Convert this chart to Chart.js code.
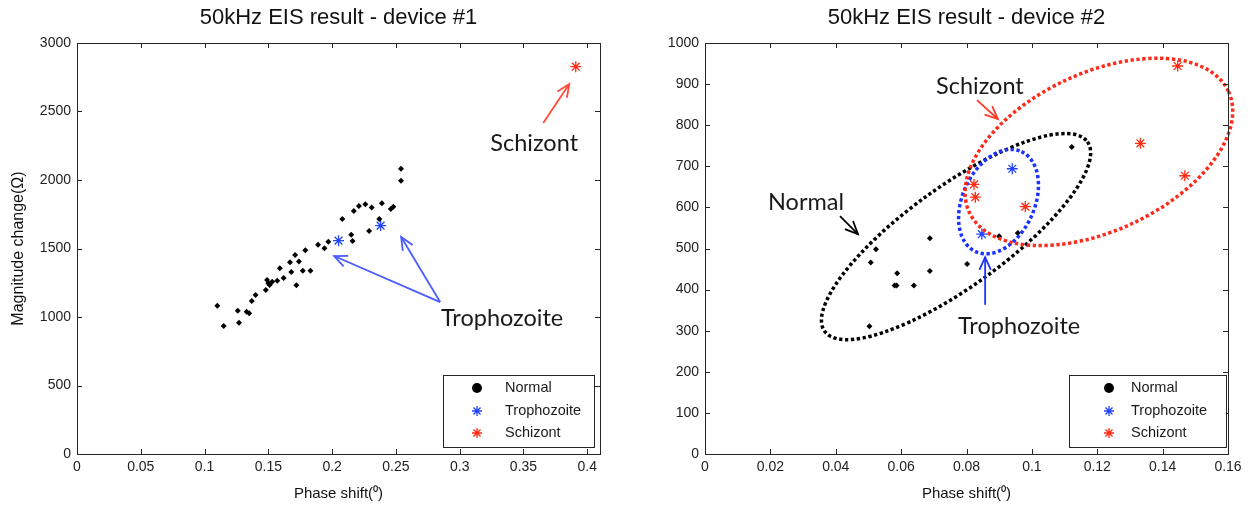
<!DOCTYPE html>
<html>
<head>
<meta charset="utf-8">
<script src="https://cdn.jsdelivr.net/npm/chart.js@4.4.1/dist/chart.umd.min.js"></script>
<style>
  body { margin: 0; background: #fff; width: 1250px; height: 508px; overflow: hidden; position: relative; }
  canvas { position: absolute; top: 0; }
  #dev1Chart { left: 0; }
  #dev2Chart { left: 625px; }
</style>
</head>
<body>
<canvas id="dev1Chart" width="625" height="508"></canvas>
<canvas id="dev2Chart" width="625" height="508"></canvas>
<script>
// ---- data ----
// device #1
const dev1NormalX = [0.254, 0.254, 0.239, 0.226, 0.221, 0.231, 0.217, 0.248, 0.246, 0.208, 0.237,
  0.215, 0.216, 0.229, 0.189, 0.197, 0.194, 0.179, 0.171, 0.174, 0.167, 0.159, 0.168, 0.177,
  0.183, 0.162, 0.157, 0.153, 0.149, 0.150, 0.151, 0.148, 0.172, 0.140, 0.137, 0.133, 0.135,
  0.126, 0.127, 0.110, 0.115];
const dev1NormalY = [2083, 1995, 1830, 1823, 1810, 1800, 1774, 1805, 1788, 1715, 1715,
  1601, 1555, 1628, 1528, 1550, 1501, 1487, 1453, 1406, 1399, 1355, 1328, 1338,
  1338, 1285, 1265, 1258, 1270, 1246, 1234, 1197, 1231, 1161, 1117, 1039, 1027,
  1046, 958, 1083, 934];
const dev1TrophX = [0.205, 0.238];
const dev1TrophY = [1557, 1667];
const dev1SchizX = [0.391];
const dev1SchizY = [2827];

// device #2
const dev2NormalX = [0.0688, 0.0523, 0.0507, 0.0588, 0.0688, 0.0802, 0.0580, 0.0586, 0.0639,
  0.0503, 0.0900, 0.0957, 0.1122];
const dev2NormalY = [525, 498, 466, 440, 445, 462, 410, 410, 410, 311, 530, 538, 747];
const dev2TrophX = [0.094, 0.0847];
const dev2TrophY = [694, 535];
const dev2SchizX = [0.0823, 0.0827, 0.098, 0.1446, 0.1332, 0.1468];
const dev2SchizY = [656, 625, 602, 944, 756, 677];

// tick labels
const dev1XTicks = [0, 0.05, 0.1, 0.15, 0.2, 0.25, 0.3, 0.35, 0.4];
const dev1YTicks = [0, 500, 1000, 1500, 2000, 2500, 3000];
const dev2XTicks = [0, 0.02, 0.04, 0.06, 0.08, 0.1, 0.12, 0.14, 0.16];
const dev2YTicks = [0, 100, 200, 300, 400, 500, 600, 700, 800, 900, 1000];

const seriesNames = ['Normal', 'Trophozoite', 'Schizont'];

const BLUE = '#2244ff';
const RED = '#ff2a14';
const FONT = '"Liberation Sans", Arial, sans-serif';

function toPoints(xs, ys) {
  return xs.map((x, i) => ({ x: x, y: ys[i] }));
}

function fmt(v) {
  return String(+v.toFixed(3));
}

// draw a MATLAB style star (plus + cross) or filled dot
function drawMarker(ctx, style, x, y, r, color) {
  ctx.save();
  ctx.strokeStyle = color;
  ctx.fillStyle = color;
  ctx.lineWidth = 1.3;
  if (style === 'circle') {
    ctx.beginPath();
    ctx.arc(x, y, r, 0, Math.PI * 2);
    ctx.fill();
  } else {
    const d = r * 0.7071;
    ctx.beginPath();
    ctx.moveTo(x - r, y); ctx.lineTo(x + r, y);
    ctx.moveTo(x, y - r); ctx.lineTo(x, y + r);
    ctx.moveTo(x - d, y - d); ctx.lineTo(x + d, y + d);
    ctx.moveTo(x - d, y + d); ctx.lineTo(x + d, y - d);
    ctx.stroke();
  }
  ctx.restore();
}

function drawArrow(ctx, x1, y1, x2, y2, color) {
  ctx.save();
  ctx.strokeStyle = color;
  ctx.lineWidth = 1.8;
  ctx.beginPath();
  ctx.moveTo(x1, y1);
  ctx.lineTo(x2, y2);
  ctx.stroke();
  const ang = Math.atan2(y2 - y1, x2 - x1);
  const L = 14, spread = 0.42;
  ctx.beginPath();
  ctx.moveTo(x2 - L * Math.cos(ang - spread), y2 - L * Math.sin(ang - spread));
  ctx.lineTo(x2, y2);
  ctx.lineTo(x2 - L * Math.cos(ang + spread), y2 - L * Math.sin(ang + spread));
  ctx.stroke();
  ctx.restore();
}

// box, inward ticks, ellipses, arrows, notes and the legend box
const matlabDecor = {
  id: 'matlabDecor',
  afterDatasetsDraw(chart, args, opts) {
    const ctx = chart.ctx;
    const area = chart.chartArea;
    const xs = chart.scales.x, ys = chart.scales.y;

    // dotted ellipses
    (opts.ellipses || []).forEach(e => {
      ctx.save();
      ctx.strokeStyle = e.color;
      ctx.lineWidth = 3.5;
      ctx.setLineDash([3.3, 2.6]);
      ctx.beginPath();
      ctx.ellipse(xs.getPixelForValue(e.x), ys.getPixelForValue(e.y), e.a, e.b, e.rot * Math.PI / 180, 0, Math.PI * 2);
      ctx.stroke();
      ctx.restore();
    });

    // arrows
    (opts.arrows || []).forEach(a => {
      drawArrow(ctx, xs.getPixelForValue(a.from[0]), ys.getPixelForValue(a.from[1]),
        xs.getPixelForValue(a.to[0]), ys.getPixelForValue(a.to[1]), a.color);
    });

    // notes
    (opts.notes || []).forEach(n => {
      ctx.save();
      ctx.font = '23.5px Lato, "Open Sans", sans-serif';
      ctx.fillStyle = '#1a1a1a';
      ctx.textAlign = 'center';
      ctx.textBaseline = 'middle';
      ctx.fillText(n.text, xs.getPixelForValue(n.x), ys.getPixelForValue(n.y));
      ctx.restore();
    });

    // axes box with inward ticks on all four sides
    ctx.save();
    ctx.strokeStyle = '#262626';
    ctx.lineWidth = 1;
    ctx.strokeRect(Math.round(area.left) + 0.5, Math.round(area.top) + 0.5,
      Math.round(area.right - area.left), Math.round(area.bottom - area.top));
    ctx.beginPath();
    opts.xTicks.forEach(v => {
      const px = Math.round(xs.getPixelForValue(v)) + 0.5;
      ctx.moveTo(px, area.bottom); ctx.lineTo(px, area.bottom - 5);
      ctx.moveTo(px, area.top); ctx.lineTo(px, area.top + 5);
    });
    opts.yTicks.forEach(v => {
      const py = Math.round(ys.getPixelForValue(v)) + 0.5;
      ctx.moveTo(area.left, py); ctx.lineTo(area.left + 5, py);
      ctx.moveTo(area.right, py); ctx.lineTo(area.right - 5, py);
    });
    ctx.stroke();
    ctx.restore();

    // legend box in the lower right corner
    const lg = opts.legend;
    const bx = area.right - lg.right - lg.width;
    const by = area.bottom - 7 - 72;
    ctx.save();
    ctx.fillStyle = '#fff';
    ctx.fillRect(bx, by, lg.width, 72);
    ctx.strokeStyle = '#262626';
    ctx.lineWidth = 1;
    ctx.strokeRect(Math.round(bx) + 0.5, Math.round(by) + 0.5, Math.round(lg.width), 72);
    ctx.font = '14.5px ' + FONT;
    ctx.textBaseline = 'middle';
    const rows = [13, 36, 58];
    chart.data.datasets.forEach((ds, i) => {
      const yy = by + rows[i];
      drawMarker(ctx, i === 0 ? 'circle' : 'star', bx + lg.marker, yy, 5, ds.borderColor);
      ctx.fillStyle = '#1a1a1a';
      ctx.fillText(ds.label, bx + lg.text, yy);
    });
    ctx.restore();
  }
};

function makeChart(canvasId, cfg) {
  const ctx = document.getElementById(canvasId).getContext('2d');
  return new Chart(ctx, {
    type: 'scatter',
    data: {
      datasets: [
        {
          label: seriesNames[0],
          data: toPoints(cfg.normal[0], cfg.normal[1]),
          pointStyle: 'rectRot',
          radius: 3,
          backgroundColor: '#000',
          borderColor: '#000',
          borderWidth: 0
        },
        {
          label: seriesNames[1],
          data: toPoints(cfg.troph[0], cfg.troph[1]),
          pointStyle: 'star',
          radius: 5.5,
          backgroundColor: BLUE,
          borderColor: BLUE,
          borderWidth: 1.3
        },
        {
          label: seriesNames[2],
          data: toPoints(cfg.schiz[0], cfg.schiz[1]),
          pointStyle: 'star',
          radius: 5.5,
          backgroundColor: RED,
          borderColor: RED,
          borderWidth: 1.3
        }
      ]
    },
    options: {
      responsive: false,
      animation: false,
      events: [],
      layout: { padding: { left: 0, right: cfg.padRight, top: 0, bottom: 0 } },
      plugins: {
        legend: { display: false },
        tooltip: { enabled: false },
        title: {
          display: true,
          fullSize: false,
          text: cfg.title,
          color: '#111',
          font: { family: FONT, size: 22, weight: 'normal' },
          padding: { top: 5, bottom: 11.6 }
        },
        matlabDecor: {
          xTicks: cfg.xTicks,
          yTicks: cfg.yTicks,
          ellipses: cfg.ellipses,
          arrows: cfg.arrows,
          notes: cfg.notes,
          legend: cfg.legend
        }
      },
      scales: {
        x: {
          type: 'linear',
          min: 0,
          max: cfg.xMax,
          afterBuildTicks: s => { s.ticks = cfg.xTicks.map(v => ({ value: v })); },
          afterFit: s => { s.height = 54; },
          grid: { display: false, drawTicks: false },
          border: { display: false },
          ticks: {
            color: '#222',
            padding: 5,
            maxRotation: 0,
            autoSkip: false,
            font: { family: FONT, size: 14 },
            callback: v => fmt(v)
          },
          title: {
            display: true,
            text: 'Phase shift(⁰)',
            color: '#111',
            font: { family: FONT, size: 15 },
            padding: { top: 0, bottom: 5 }
          }
        },
        y: {
          type: 'linear',
          min: 0,
          max: cfg.yMax,
          afterBuildTicks: s => { s.ticks = cfg.yTicks.map(v => ({ value: v })); },
          afterFit: s => { s.width = cfg.yWidth; },
          grid: { display: false, drawTicks: false },
          border: { display: false },
          ticks: {
            color: '#222',
            padding: 6,
            autoSkip: false,
            font: { family: FONT, size: 14 },
            callback: v => fmt(v)
          },
          title: {
            display: cfg.yTitle !== '',
            text: cfg.yTitle,
            color: '#111',
            font: { family: FONT, size: 16 },
            padding: { top: 9, bottom: 0 }
          }
        }
      }
    },
    plugins: [matlabDecor]
  });
}

makeChart('dev1Chart', {
  title: '50kHz EIS result - device #1',
  normal: [dev1NormalX, dev1NormalY],
  troph: [dev1TrophX, dev1TrophY],
  schiz: [dev1SchizX, dev1SchizY],
  xTicks: dev1XTicks,
  yTicks: dev1YTicks,
  xMax: 0.41,
  yMax: 3000,
  yWidth: 77,
  padRight: 25,
  yTitle: 'Magnitude change(Ω)',
  ellipses: [],
  arrows: [
    { from: [0.3655, 2416], to: [0.3859, 2701], color: '#ff4a3a' },
    { from: [0.2847, 1109], to: [0.2016, 1445], color: '#4a5cff' },
    { from: [0.2847, 1109], to: [0.2541, 1584], color: '#4a5cff' }
  ],
  notes: [
    { text: 'Schizont', x: 0.3584, y: 2270 },
    { text: 'Trophozoite', x: 0.3333, y: 993 }
  ],
  legend: { width: 151, right: 6, marker: 34, text: 62 }
});

makeChart('dev2Chart', {
  title: '50kHz EIS result - device #2',
  normal: [dev2NormalX, dev2NormalY],
  troph: [dev2TrophX, dev2TrophY],
  schiz: [dev2SchizX, dev2SchizY],
  xTicks: dev2XTicks,
  yTicks: dev2YTicks,
  xMax: 0.16,
  yMax: 1000,
  yWidth: 80,
  padRight: 22,
  yTitle: '',
  ellipses: [
    { x: 0.0768, y: 529, a: 162, b: 50, rot: -35.8, color: '#000' },
    { x: 0.0898, y: 614, a: 55, b: 36, rot: -65.4, color: '#1a33ff' },
    { x: 0.1205, y: 735, a: 143, b: 79, rot: -25, color: '#ff2a1a' }
  ],
  arrows: [
    { from: [0.0832, 861], to: [0.0896, 815], color: '#ff3a2a' },
    { from: [0.0413, 579], to: [0.0468, 535], color: '#000' },
    { from: [0.0857, 363], to: [0.0857, 479], color: '#1a33ff' }
  ],
  notes: [
    { text: 'Schizont', x: 0.0841, y: 895 },
    { text: 'Normal', x: 0.0309, y: 611 },
    { text: 'Trophozoite', x: 0.0961, y: 311 }
  ],
  legend: { width: 157, right: 2, marker: 40, text: 62 }
});
</script>
</body>
</html>
